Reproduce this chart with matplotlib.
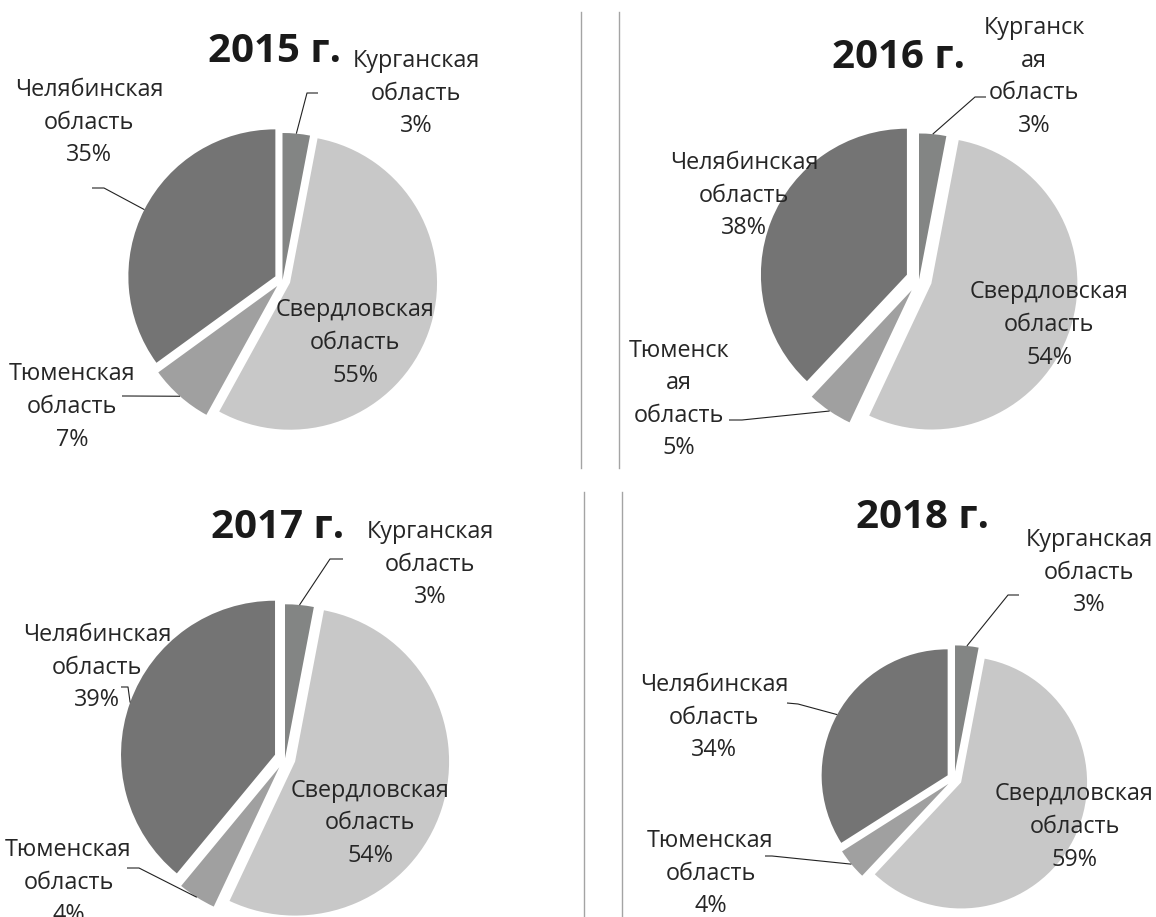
import numpy as np
import matplotlib.pyplot as plt

plt.rcParams['font.family'] = ['Open Sans', 'DejaVu Sans']

W, H = 1156, 917

# data
regions = ['Курганская', 'Свердловская', 'Тюменская', 'Челябинская']
years = ['2015 г.', '2016 г.', '2017 г.', '2018 г.']
shares_2015 = [3, 55, 7, 35]
shares_2016 = [3, 54, 5, 38]
shares_2017 = [3, 54, 4, 39]
shares_2018 = [3, 59, 4, 34]
shares = [shares_2015, shares_2016, shares_2017, shares_2018]

colors = ['#838584', '#c8c8c8', '#a0a0a0', '#747474']

# layout, pixel coords measured from the top-left corner
pie_center = [(282.5, 280), (919, 279.5), (285, 758.3), (954.3, 779)]
pie_radius = [147, 146, 154, 126]
pie_gap = [8, 13, 10.6, 7.6]
first_out = [False, False, False, True]
title_pos = [(275, 62), (899, 68), (278, 538), (922, 528)]
label_pos = [
    [(416, 90.5), (355, 340), (72, 404), (89, 119.7)],
    [(1034, 73.8), (1049, 322), (679, 396.5), (744, 192.7)],
    [(430, 561.7), (370, 820.3), (68.5, 879.7), (97, 664.7)],
    [(1089, 569.7), (1074.5, 824), (710.5, 870.7), (714, 714.7)],
]
wrap = {(1, 0): 'Курганск\nая', (1, 2): 'Тюменск\nая'}
leaders = [
    {0: ((318, 93), (307, 93)), 2: ((122, 396), (128, 396)), 3: ((92, 188), (104, 188))},
    {0: ((986, 97), (975, 97)), 2: ((729, 420), (742, 420))},
    {0: ((343, 559), (330, 559)), 2: ((127, 868), (139, 868)), 3: ((121, 687), (128, 687))},
    {0: ((1019, 595), (1008, 595)), 2: ((765, 856), (772, 856)), 3: ((787, 703), (798, 704))},
]
line_step = 32.5
text_color = '#262626'

fig = plt.figure(figsize=(W / 100, H / 100), dpi=100)
ax = fig.add_axes([0, 0, 1, 1])

for i in range(4):
    cx, cy = pie_center[i]
    r = pie_radius[i]
    wedges, _ = ax.pie(shares[i], colors=colors, startangle=90, counterclock=False,
                       radius=r, center=(cx, H - cy), wedgeprops=dict(linewidth=0))
    ends = []
    for k, w in enumerate(wedges):
        mid = np.deg2rad((w.theta1 + w.theta2) / 2)
        d = pie_gap[i] if (k > 0 or first_out[i]) else 0
        x0, y0 = w.center
        w.set_center((x0 + d * np.cos(mid), y0 + d * np.sin(mid)))
        ends.append((x0 + (d + r) * np.cos(mid), y0 + (d + r) * np.sin(mid)))

    # title
    tx, ty = title_pos[i]
    ax.text(tx, H - ty, years[i], ha='center', va='baseline', fontsize=29,
            fontweight='bold', color='#1a1a1a')

    # data labels
    for k, v in enumerate(shares[i]):
        name = wrap.get((i, k), regions[k])
        lines = name.split('\n') + ['область', f'{v}%']
        lx, ly = label_pos[i][k]
        n = len(lines)
        for j, s in enumerate(lines):
            yy = ly + (j - (n - 1) / 2) * line_step
            ax.text(lx, H - yy, s, ha='center', va='center_baseline',
                    fontsize=16.8, color=text_color)

    # leader lines
    for k, (a, e) in leaders[i].items():
        px = [a[0], e[0], ends[k][0]]
        py = [H - a[1], H - e[1], ends[k][1]]
        ax.plot(px, py, color='#222222', lw=0.8, solid_capstyle='butt')

# separators between the charts
for x, y0, y1 in [(581, 12, 468), (619, 12, 468), (584, 492, 917), (622, 492, 917)]:
    ax.plot([x, x], [H - y0, H - y1], color='#a4a4a4', lw=1)

ax.set_xlim(0, W)
ax.set_ylim(0, H)
ax.set_aspect('auto')
ax.axis('off')

fig.savefig('out.png', dpi=100, facecolor='white')
